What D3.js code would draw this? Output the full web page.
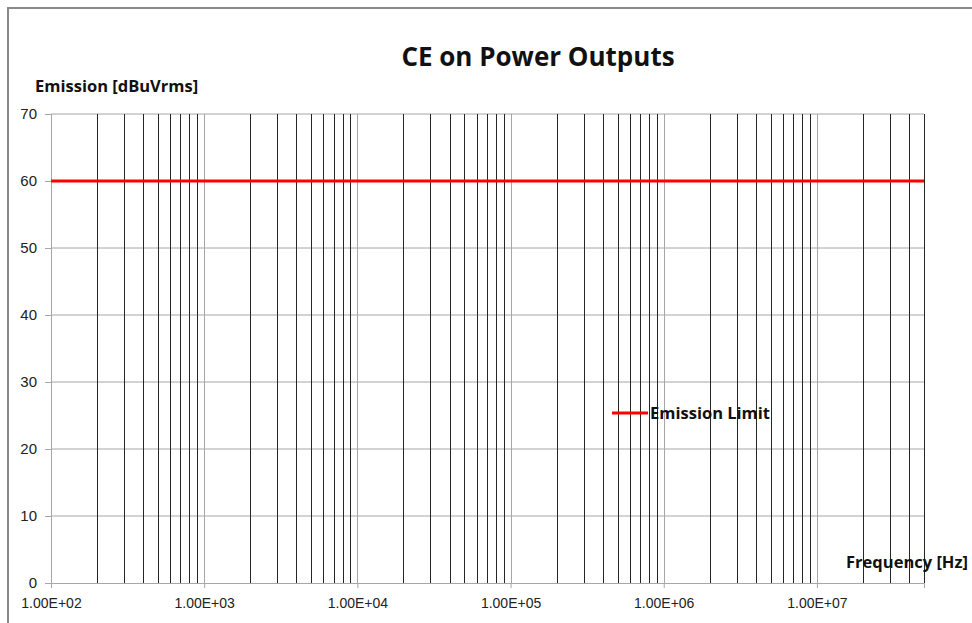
<!DOCTYPE html>
<html>
<head>
<meta charset="utf-8">
<script src="https://cdn.jsdelivr.net/npm/d3@7"></script>
<style>
  body { margin: 0; background: #fff; }
  svg { display: block; font-family: "Open Sans", "Noto Sans", sans-serif; }
</style>
</head>
<body>
<svg id="chart" width="972" height="623"></svg>
<script>
// limit line data
const limitFreq = [100, 5e7];
const limitValue = [60, 60];

// axis ticks
const xTickValues = [1e2, 1e3, 1e4, 1e5, 1e6, 1e7];
const xTickLabels = ["1.00E+02", "1.00E+03", "1.00E+04", "1.00E+05", "1.00E+06", "1.00E+07"];
const yTickValues = [0, 10, 20, 30, 40, 50, 60, 70];

const margin = { top: 114, right: 48, bottom: 40, left: 51 };
const width = 972 - margin.left - margin.right;
const height = 623 - margin.top - margin.bottom;

const svg = d3.select("#chart");

// outer frame
svg.append("rect")
  .attr("x", 8).attr("y", 8)
  .attr("width", 980).attr("height", 640)
  .attr("fill", "#fff")
  .attr("stroke", "#8a8a8a")
  .attr("stroke-width", 2);

const g = svg.append("g")
  .attr("transform", `translate(${margin.left},${margin.top})`);

const x = d3.scaleLog()
  .domain([limitFreq[0], limitFreq[1]])
  .range([0, width]);

const y = d3.scaleLinear()
  .domain([0, 70])
  .range([height, 0]);

// horizontal gridlines
g.append("g")
  .selectAll("line")
  .data(yTickValues.filter(d => d > 0))
  .enter().append("line")
  .attr("x1", 0).attr("x2", width)
  .attr("y1", d => y(d)).attr("y2", d => y(d))
  .attr("stroke", "#a6a6a6")
  .attr("stroke-width", 1);

// vertical gridlines (minor = dark, decades = grey)
const isDecade = d => Math.abs(Math.log10(d) - Math.round(Math.log10(d))) < 1e-9;
g.append("g")
  .selectAll("line")
  .data(x.ticks().filter(d => d > limitFreq[0]))
  .enter().append("line")
  .attr("x1", d => Math.round(x(d)) + 0.5).attr("x2", d => Math.round(x(d)) + 0.5)
  .attr("y1", 0).attr("y2", height)
  .attr("stroke", d => isDecade(d) ? "#a6a6a6" : "#262626")
  .attr("stroke-width", 1);

// y axis
const yAxis = g.append("g")
  .call(d3.axisLeft(y).tickValues(yTickValues).tickSize(6).tickPadding(8));
yAxis.select(".domain").attr("stroke", "#a6a6a6");
yAxis.selectAll(".tick line").attr("stroke", "#a6a6a6");
yAxis.selectAll("text")
  .style("font-size", "15px")
  .attr("fill", "#222");

// x axis
const xAxis = g.append("g")
  .attr("transform", `translate(0,${height})`)
  .call(d3.axisBottom(x)
    .tickValues(xTickValues)
    .tickFormat((d, i) => xTickLabels[i])
    .tickSizeOuter(0)
    .tickSize(5)
    .tickPadding(10));
xAxis.select(".domain").attr("stroke", "#a6a6a6");
xAxis.selectAll(".tick line").attr("stroke", "#a6a6a6");
xAxis.selectAll("text")
  .style("font-size", "14px")
  .attr("fill", "#222");

// emission limit line
const line = d3.line()
  .x(d => x(d[0]))
  .y(d => y(d[1]));

g.append("path")
  .datum(limitFreq.map((f, i) => [f, limitValue[i]]))
  .attr("d", line)
  .attr("fill", "none")
  .attr("stroke", "#ff0000")
  .attr("stroke-width", 3);

// titles
svg.append("text")
  .attr("x", 538).attr("y", 66)
  .attr("text-anchor", "middle")
  .style("font-size", "26px")
  .style("font-weight", "bold")
  .attr("fill", "#111")
  .text("CE on Power Outputs");

svg.append("text")
  .attr("x", 35).attr("y", 92)
  .style("font-size", "16.5px")
  .style("font-weight", "bold")
  .attr("fill", "#111")
  .text("Emission [dBuVrms]");

svg.append("text")
  .attr("x", 968).attr("y", 568)
  .attr("text-anchor", "end")
  .style("font-size", "16.5px")
  .style("font-weight", "bold")
  .attr("fill", "#111")
  .text("Frequency [Hz]");

// legend
const legend = svg.append("g").attr("transform", "translate(612,413)");
legend.append("line")
  .attr("x1", 0).attr("x2", 36)
  .attr("y1", 0).attr("y2", 0)
  .attr("stroke", "#ff0000")
  .attr("stroke-width", 3);
legend.append("text")
  .attr("x", 38).attr("y", 6)
  .style("font-size", "16.5px")
  .style("font-weight", "bold")
  .attr("fill", "#111")
  .text("Emission Limit");
</script>
</body>
</html>
